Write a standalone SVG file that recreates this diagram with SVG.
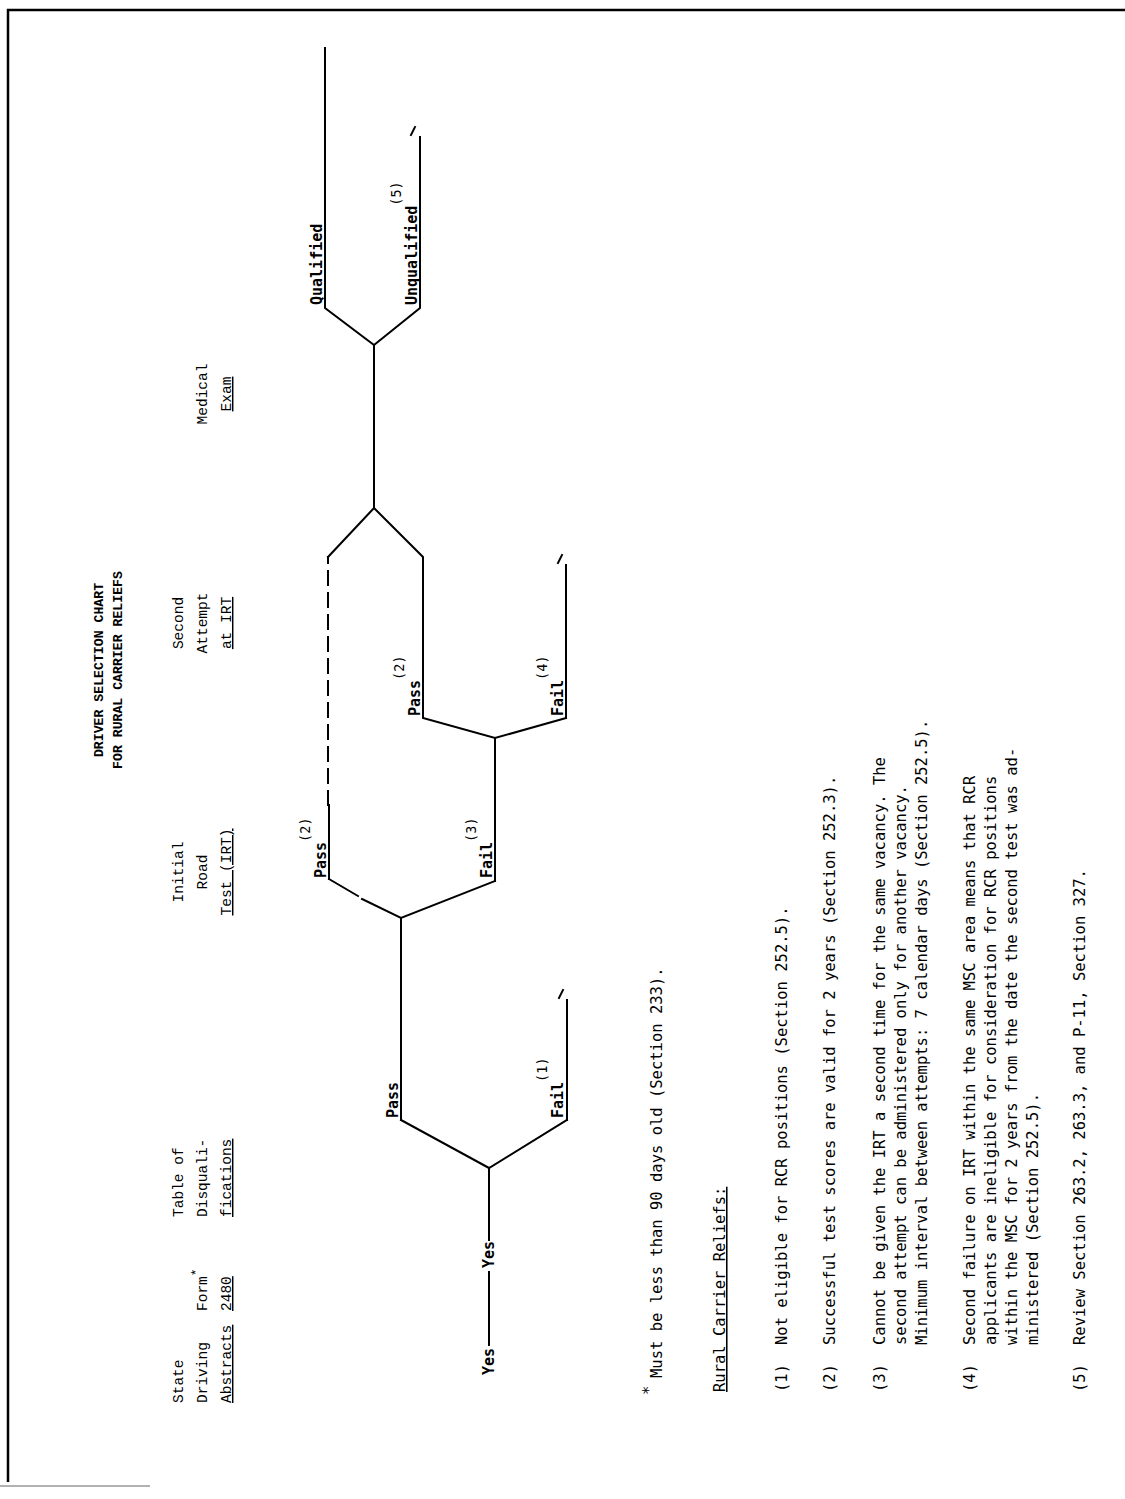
<svg xmlns="http://www.w3.org/2000/svg" width="1125" height="1499" viewBox="0 0 1125 1499">
<style>
.ln{fill:none;stroke:#000;stroke-width:2;stroke-linecap:square}
.hd{font-family:"Liberation Mono",monospace;font-size:14.5px;fill:#000}
.tt{font-family:"Liberation Mono",monospace;font-size:13.2px;fill:#000;font-weight:bold}
.lb{font-family:"DejaVu Sans Mono",monospace;font-size:15px;font-weight:bold;fill:#000}
.sp{font-family:"DejaVu Sans Mono",monospace;font-size:13.5px;font-weight:normal;fill:#000}
.fn{font-family:"DejaVu Sans Mono",monospace;font-size:15.5px;fill:#000}
</style>
<rect width="1125" height="1499" fill="#fff"/>
<g id="frame">
<path d="M8 1482 V10 H1125" fill="none" stroke="#000" stroke-width="2.5"/>
<path d="M0 1486 H150" fill="none" stroke="#999" stroke-width="1.5"/>
</g>
<g id="connectors">
<path class="ln" d="M489 1345 V1272"/>
<path class="ln" d="M489 1240 V1168"/>
<path class="ln" d="M401 1120 L489 1168 L567 1120"/>
<path class="ln" d="M401 1120 V918"/>
<path class="ln" d="M567 1120 V1000"/>
<path class="ln" d="M559 998 L563 990"/>
<path class="ln" d="M329 879 L358 896 M362 899 L401 918 L495 881"/>
<path class="ln" d="M329 879 V805"/>
<path class="ln" d="M328 805 V557" stroke-dasharray="14 8"/>
<path class="ln" d="M328 557 L374 508 L423 557 V718 L495 738 L566 718"/>
<path class="ln" d="M495 881 V738"/>
<path class="ln" d="M566 718 V565"/>
<path class="ln" d="M558 563 L562 555"/>
<path class="ln" d="M374 508 V345"/>
<path class="ln" d="M325 48 V308 L374 345 L420 308 V137"/>
<path class="ln" d="M411 135 L415 127"/>
</g>
<g transform="translate(0,1499) rotate(-90)">
<g id="title">
<text class="tt" x="829" y="103" text-anchor="middle">DRIVER SELECTION CHART</text>
<text class="tt" x="829" y="122" text-anchor="middle">FOR RURAL CARRIER RELIEFS</text>
</g>
<g id="hdr-state">
<text class="hd" x="96" y="183">State</text>
<text class="hd" x="96" y="207">Driving</text>
<text class="hd" x="96" y="231" text-decoration="underline">Abstracts</text>
</g>
<g id="hdr-form">
<text class="hd" x="188" y="207">Form<tspan dy="-7" font-size="13">*</tspan></text>
<text class="hd" x="188" y="231" text-decoration="underline">2480</text>
</g>
<g id="hdr-table">
<text class="hd" x="282" y="183">Table of</text>
<text class="hd" x="282" y="207">Disquali-</text>
<text class="hd" x="282" y="231" text-decoration="underline">fications</text>
</g>
<g id="hdr-irt">
<text class="hd" x="627" y="183" text-anchor="middle">Initial</text>
<text class="hd" x="627" y="207" text-anchor="middle">Road</text>
<text class="hd" x="627" y="231" text-anchor="middle" text-decoration="underline">Test (IRT)</text>
</g>
<g id="hdr-second">
<text class="hd" x="876" y="183" text-anchor="middle">Second</text>
<text class="hd" x="876" y="207" text-anchor="middle">Attempt</text>
<text class="hd" x="876" y="231" text-anchor="middle" text-decoration="underline">at IRT</text>
</g>
<g id="hdr-medical">
<text class="hd" x="1105" y="207" text-anchor="middle">Medical</text>
<text class="hd" x="1105" y="231" text-anchor="middle" text-decoration="underline">Exam</text>
</g>
<g id="labels">
<text class="lb" x="124" y="494">Yes</text>
<text class="lb" x="231" y="494">Yes</text>
<text class="lb" x="381" y="398">Pass</text>
<text class="lb" x="381" y="563">Fail<tspan class="sp" dy="-16">(1)</tspan></text>
<text class="lb" x="621" y="326">Pass<tspan class="sp" dy="-16">(2)</tspan></text>
<text class="lb" x="621" y="492">Fail<tspan class="sp" dy="-16">(3)</tspan></text>
<text class="lb" x="783" y="420">Pass<tspan class="sp" dy="-16">(2)</tspan></text>
<text class="lb" x="783" y="563">Fail<tspan class="sp" dy="-16">(4)</tspan></text>
<text class="lb" x="1194" y="322">Qualified</text>
<text class="lb" x="1194" y="417">Unqualified<tspan class="sp" dy="-16">(5)</tspan></text>
</g>
<g id="notes">
<text class="fn" x="104" y="654">*</text>
<text class="fn" x="121" y="662">Must be less than 90 days old (Section 233).</text>
<text class="fn" x="107" y="725" text-decoration="underline">Rural Carrier Reliefs:</text>
<text class="fn" x="107" y="787">(1)</text>
<text class="fn" x="154" y="787">Not eligible for RCR positions (Section 252.5).</text>
<text class="fn" x="107" y="835">(2)</text>
<text class="fn" x="154" y="835">Successful test scores are valid for 2 years (Section 252.3).</text>
<text class="fn" x="107" y="885">(3)</text>
<text class="fn" x="154" y="885">Cannot be given the IRT a second time for the same vacancy.  The</text>
<text class="fn" x="154" y="906">second attempt can be administered only for another vacancy.</text>
<text class="fn" x="154" y="927">Minimum interval between attempts:  7 calendar days (Section 252.5).</text>
<text class="fn" x="107" y="975">(4)</text>
<text class="fn" x="154" y="975">Second failure on IRT within the same MSC area means that RCR</text>
<text class="fn" x="154" y="996">applicants are ineligible for consideration for RCR positions</text>
<text class="fn" x="154" y="1017">within the MSC for 2 years from the date the second test was ad-</text>
<text class="fn" x="154" y="1038">ministered (Section 252.5).</text>
<text class="fn" x="107" y="1085">(5)</text>
<text class="fn" x="154" y="1085">Review Section 263.2, 263.3, and P-11, Section 327.</text>
</g>
</g>
</svg>
